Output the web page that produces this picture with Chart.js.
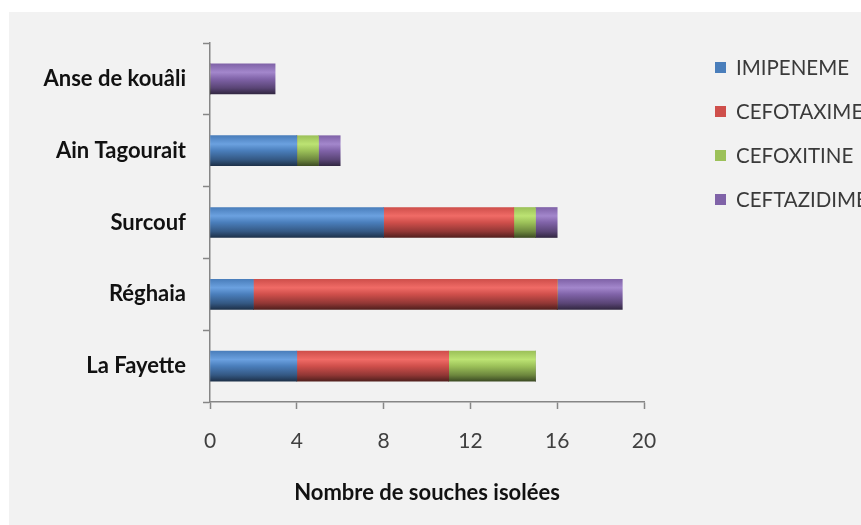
<!DOCTYPE html>
<html>
<head>
<meta charset="utf-8">
<script src="https://cdn.jsdelivr.net/npm/chart.js@4/dist/chart.umd.min.js"></script>
<style>
  html, body { margin: 0; padding: 0; background: #fff; overflow: hidden; }
  canvas { display: block; }
</style>
</head>
<body>
<canvas id="souches" width="861" height="525"></canvas>
<script>
// sites de prélèvement (de haut en bas)
const sites = ['Anse de kouâli', 'Ain Tagourait', 'Surcouf', 'Réghaia', 'La Fayette'];

// nombre de souches par antibiotique
const imipeneme   = [0, 4, 8, 2, 4];
const cefotaxime  = [0, 0, 6, 14, 7];
const cefoxitine  = [0, 1, 1, 0, 4];
const ceftazidime = [3, 1, 1, 3, 0];

const xTicks = [0, 4, 8, 12, 16, 20];

const BAR_H = 30;

function hexToRgb(hex) {
  const n = parseInt(hex.slice(1), 16);
  return [(n >> 16) & 255, (n >> 8) & 255, n & 255];
}
function mix(hex, target, t) {
  const c = hexToRgb(hex);
  const r = c.map(v => Math.round(v + (target - v) * t));
  return `rgb(${r[0]},${r[1]},${r[2]})`;
}

// dégradé vertical façon Office 2007
function barFill(base, light) {
  return (ctx) => {
    const chart = ctx.chart;
    const y = chart.scales && chart.scales.y;
    if (!chart.chartArea || !y || ctx.type !== 'data') return base;
    const c = y.getPixelForValue(ctx.dataIndex);
    const g = chart.ctx.createLinearGradient(0, c - BAR_H / 2, 0, c + BAR_H / 2);
    g.addColorStop(0, base);
    g.addColorStop(0.28, light);
    g.addColorStop(0.5, base);
    g.addColorStop(0.8, mix(base, 0, 0.3));
    g.addColorStop(1, mix(base, 0, 0.6));
    return g;
  };
}

const panelBg = {
  id: 'panelBg',
  beforeDraw(chart) {
    const c = chart.ctx;
    c.save();
    c.fillStyle = '#f2f2f2';
    c.fillRect(9, 12, chart.width - 9, chart.height - 12);
    c.restore();
  }
};

const sideLegend = {
  id: 'sideLegend',
  afterDraw(chart) {
    const c = chart.ctx;
    c.save();
    c.font = '20.5px Lato';
    c.textBaseline = 'middle';
    c.textAlign = 'left';
    chart.data.datasets.forEach((ds, i) => {
      const yy = 68 + i * 44;
      c.fillStyle = ds.legendColor;
      c.fillRect(715, yy - 6, 11, 11);
      c.fillStyle = '#3a3a3a';
      c.fillText(ds.label, 736, yy);
    });
    c.restore();
  }
};

const series = [
  { label: 'IMIPENEME', data: imipeneme, color: '#4A7EBB', light: '#6BA1E0' },
  { label: 'CEFOTAXIME', data: cefotaxime, color: '#CF4F4B', light: '#F06B66' },
  { label: 'CEFOXITINE', data: cefoxitine, color: '#9CC159', light: '#BCE373' },
  { label: 'CEFTAZIDIME', data: ceftazidime, color: '#8063A8', light: '#A387CC' }
];

new Chart(document.getElementById('souches'), {
  type: 'bar',
  data: {
    labels: sites,
    datasets: series.map(s => ({
      label: s.label,
      data: s.data,
      legendColor: s.color,
      backgroundColor: barFill(s.color, s.light),
      borderWidth: 0,
      barThickness: BAR_H
    }))
  },
  plugins: [panelBg, sideLegend],
  options: {
    indexAxis: 'y',
    responsive: false,
    animation: false,
    layout: { padding: { top: 43, right: 217, left: 0, bottom: 0 } },
    plugins: {
      legend: { display: false },
      tooltip: { enabled: false }
    },
    scales: {
      x: {
        stacked: true,
        min: 0,
        max: 20,
        afterBuildTicks: s => { s.ticks = xTicks.map(v => ({ value: v })); },
        afterFit: s => { s.height = 123; },
        grid: { drawOnChartArea: false, tickLength: 7, tickColor: '#868686', tickWidth: 1.5 },
        border: { color: '#868686', width: 1.5 },
        ticks: { color: '#404040', font: { family: 'Lato', size: 21 }, padding: 20, maxRotation: 0 },
        title: {
          display: true,
          text: 'Nombre de souches isolées',
          color: '#111',
          font: { family: 'Lato', size: 22, weight: 'bold' },
          padding: { top: 0, bottom: 19 }
        }
      },
      y: {
        stacked: true,
        afterFit: s => { s.width = 210; },
        grid: { drawOnChartArea: false, offset: true, tickLength: 7, tickColor: '#868686', tickWidth: 1.5 },
        border: { color: '#868686', width: 1.5 },
        ticks: { color: '#111', font: { family: 'Lato', size: 22, weight: 'bold' }, padding: 17 }
      }
    }
  }
});
</script>
</body>
</html>
